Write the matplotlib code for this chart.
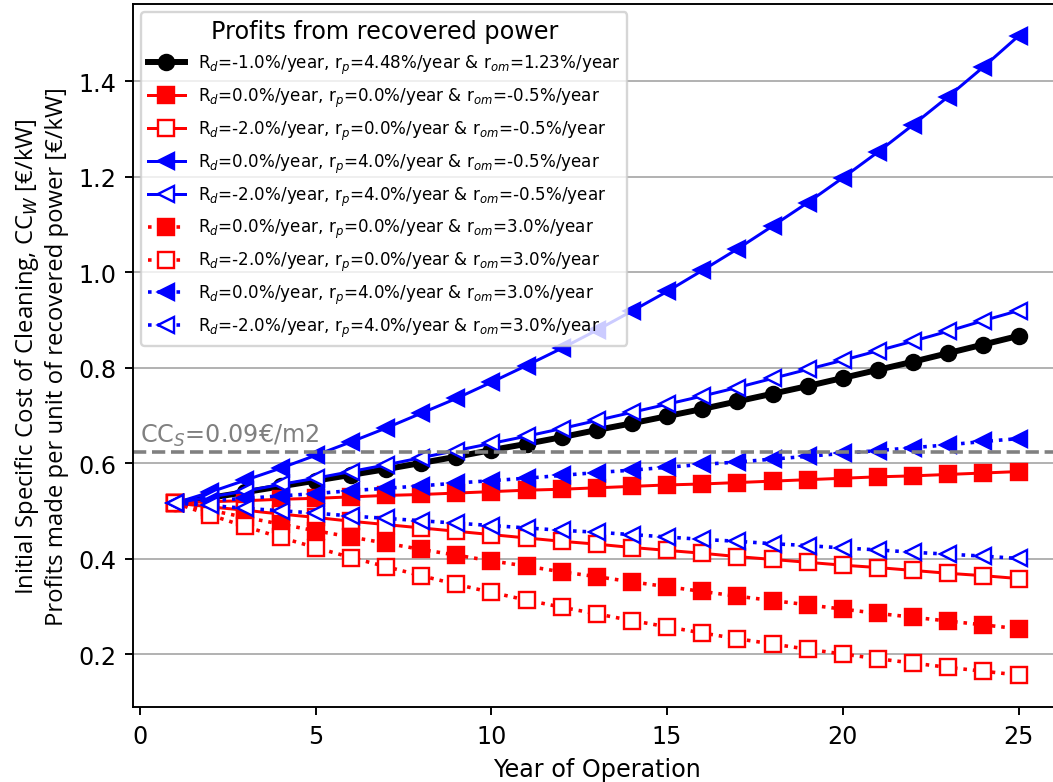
import numpy as np
import matplotlib.pyplot as plt

years = np.arange(1, 26)

# profits per unit of recovered power [€/kW], one list per scenario
p_ref = [0.517, 0.528, 0.540, 0.552, 0.564, 0.576, 0.588, 0.601, 0.614,
         0.628, 0.641, 0.655, 0.670, 0.684, 0.699, 0.714, 0.730, 0.746,
         0.762, 0.779, 0.796, 0.813, 0.831, 0.849, 0.867]
p_d0_p0_om05 = [0.517, 0.520, 0.522, 0.525, 0.527, 0.530, 0.533, 0.535,
                0.538, 0.541, 0.544, 0.546, 0.549, 0.552, 0.555, 0.557,
                0.560, 0.563, 0.566, 0.569, 0.572, 0.574, 0.577, 0.580,
                0.583]
p_d2_p0_om05 = [0.517, 0.509, 0.502, 0.494, 0.487, 0.479, 0.472, 0.465,
                0.458, 0.451, 0.444, 0.437, 0.431, 0.424, 0.418, 0.412,
                0.405, 0.399, 0.393, 0.387, 0.382, 0.376, 0.370, 0.365,
                0.359]
p_d0_p4_om05 = [0.517, 0.540, 0.565, 0.590, 0.617, 0.645, 0.674, 0.705,
                0.736, 0.770, 0.805, 0.841, 0.879, 0.919, 0.960, 1.004,
                1.049, 1.097, 1.146, 1.198, 1.252, 1.309, 1.368, 1.430,
                1.495]
p_d2_p4_om05 = [0.517, 0.530, 0.542, 0.556, 0.569, 0.583, 0.597, 0.612,
                0.627, 0.642, 0.657, 0.673, 0.690, 0.707, 0.724, 0.741,
                0.759, 0.778, 0.797, 0.816, 0.836, 0.856, 0.877, 0.899,
                0.920]
p_d0_p0_om3 = [0.517, 0.502, 0.487, 0.473, 0.459, 0.446, 0.433, 0.420,
               0.408, 0.396, 0.385, 0.373, 0.363, 0.352, 0.342, 0.332,
               0.322, 0.313, 0.304, 0.295, 0.286, 0.278, 0.270, 0.262,
               0.254]
p_d2_p0_om3 = [0.517, 0.492, 0.468, 0.445, 0.424, 0.403, 0.384, 0.365,
               0.347, 0.330, 0.314, 0.299, 0.285, 0.271, 0.258, 0.245,
               0.233, 0.222, 0.211, 0.201, 0.191, 0.182, 0.173, 0.165,
               0.157]
p_d0_p4_om3 = [0.517, 0.522, 0.527, 0.532, 0.537, 0.543, 0.548, 0.553,
               0.559, 0.564, 0.569, 0.575, 0.581, 0.586, 0.592, 0.598,
               0.603, 0.609, 0.615, 0.621, 0.627, 0.633, 0.639, 0.646,
               0.652]
p_d2_p4_om3 = [0.517, 0.512, 0.506, 0.501, 0.496, 0.490, 0.485, 0.480,
               0.475, 0.470, 0.465, 0.460, 0.456, 0.451, 0.446, 0.441,
               0.437, 0.432, 0.428, 0.423, 0.419, 0.414, 0.410, 0.406,
               0.401]

cc_s = 0.624   # initial specific cost of cleaning, CC_S = 0.09 €/m2

lbl = r'R$_d$=%s%%/year, r$_p$=%s%%/year & r$_{om}$=%s%%/year'

dpi = 172
fig = plt.figure(figsize=(1053./dpi, 783./dpi), dpi=dpi)
ax = fig.add_axes([0.1263, 0.0958, 0.881, 0.8978])

ms = 6.3
ax.plot(years, p_ref, 'o-', color='k', lw=2.5, ms=ms,
        label=lbl % ('-1.0', '4.48', '1.23'))
ax.plot(years, p_d0_p0_om05, 's-', color='red', lw=1.25, ms=ms,
        label=lbl % ('0.0', '0.0', '-0.5'))
ax.plot(years, p_d2_p0_om05, 's-', color='red', mfc='white', lw=1.25, ms=ms,
        label=lbl % ('-2.0', '0.0', '-0.5'))
ax.plot(years, p_d0_p4_om05, '<-', color='blue', lw=1.25, ms=ms,
        label=lbl % ('0.0', '4.0', '-0.5'))
ax.plot(years, p_d2_p4_om05, '<-', color='blue', mfc='white', lw=1.25, ms=ms,
        label=lbl % ('-2.0', '4.0', '-0.5'))
ax.plot(years, p_d0_p0_om3, 's:', color='red', lw=1.5, ms=ms,
        label=lbl % ('0.0', '0.0', '3.0'))
ax.plot(years, p_d2_p0_om3, 's:', color='red', mfc='white', lw=1.5, ms=ms,
        label=lbl % ('-2.0', '0.0', '3.0'))
ax.plot(years, p_d0_p4_om3, '<:', color='blue', lw=1.5, ms=ms,
        label=lbl % ('0.0', '4.0', '3.0'))
ax.plot(years, p_d2_p4_om3, '<:', color='blue', mfc='white', lw=1.5, ms=ms,
        label=lbl % ('-2.0', '4.0', '3.0'))

ax.axhline(cc_s, color='grey', ls='--', lw=1.5)
ax.text(0, cc_s + 0.021, r'CC$_S$=0.09€/m2', color='grey', fontsize=10,
        va='baseline', ha='left')

ax.grid(axis='y')
ax.set_xlabel('Year of Operation', fontsize=10)
ax.set_ylabel('Initial Specific Cost of Cleaning, CC$_W$ [€/kW]\n'
              'Profits made per unit of recovered power [€/kW]',
              fontsize=10, family='Open Sans')

leg = ax.legend(loc='upper left', fontsize=7, labelspacing=0.58,
                handlelength=2.2, title='Profits from recovered power',
                title_fontsize=10)

plt.savefig('out.png', dpi=dpi)
